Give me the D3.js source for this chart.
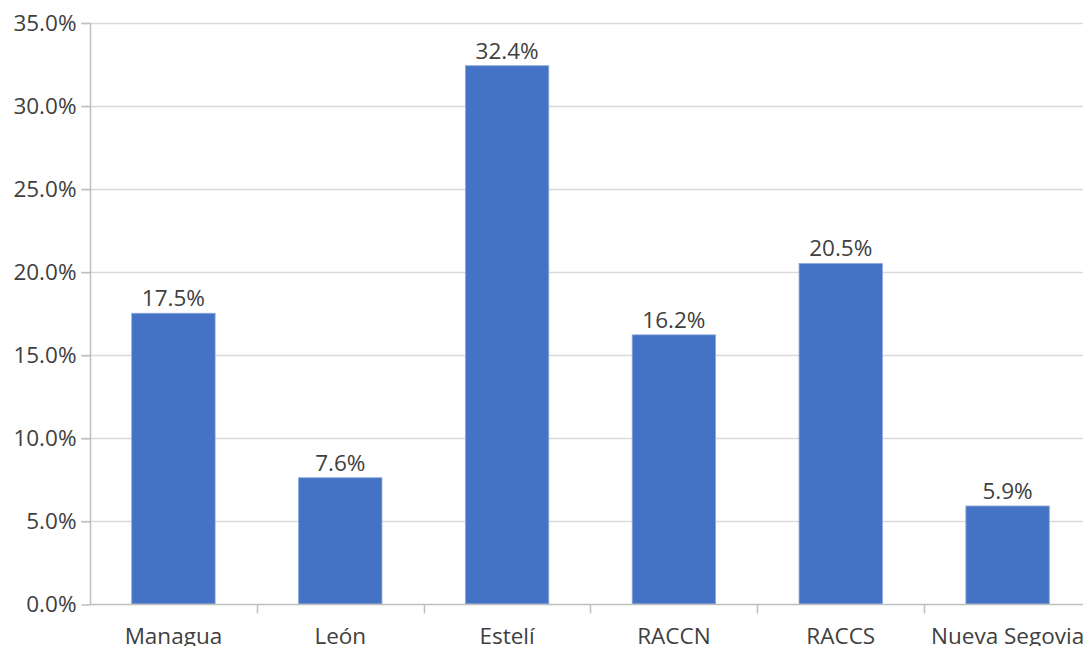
<!DOCTYPE html>
<html>
<head>
<meta charset="utf-8">
<script src="https://cdn.jsdelivr.net/npm/d3@7"></script>
<style>
  html, body { margin: 0; padding: 0; background: #fff; }
  svg { display: block; }
  text { font-family: "Open Sans", "Noto Sans", sans-serif; fill: #404040; }
</style>
</head>
<body>
<svg id="chart" width="1083" height="646"></svg>
<script>
const categories = ["Managua", "León", "Estelí", "RACCN", "RACCS", "Nueva Segovia"];
const values = [17.5, 7.6, 32.4, 16.2, 20.5, 5.9];
const yTicks = [0, 5, 10, 15, 20, 25, 30, 35];

const svg = d3.select("#chart");
const plotLeft = 90, plotRight = 1091, plotTop = 22.5, plotBottom = 604;
const fontSize = 22.5;

const x = d3.scaleBand().domain(categories).range([plotLeft, plotRight]).paddingInner(0.5).paddingOuter(0.25);
const y = d3.scaleLinear().domain([0, 35]).range([plotBottom, plotTop]);
const fmt = v => v.toFixed(1) + "%";

// horizontal gridlines
svg.append("g").selectAll("line").data(yTicks.filter(d => d > 0)).join("line")
  .attr("x1", plotLeft - 9).attr("x2", 1083)
  .attr("y1", d => Math.round(y(d)) + 0.5).attr("y2", d => Math.round(y(d)) + 0.5)
  .attr("stroke", "#d9d9d9").attr("stroke-width", 1.5);

// y axis
const yAxis = d3.axisLeft(y).tickValues(yTicks).tickFormat(fmt).tickSize(9).tickPadding(5);
const gy = svg.append("g").attr("transform", `translate(${plotLeft + 0.5},0.5)`).call(yAxis);
gy.select(".domain").attr("stroke", "#bfbfbf").attr("stroke-width", 1.5).attr("d", `M0,${y(35)}V${plotBottom}`);
gy.selectAll(".tick line").attr("stroke", "#bfbfbf").attr("stroke-width", 1.5);
gy.selectAll(".tick text").attr("font-size", fontSize).attr("fill", "#404040")
  .style("font-family", '"Open Sans", "Noto Sans", sans-serif');

// bars
svg.append("g").selectAll("rect").data(values).join("rect")
  .attr("x", (d, i) => x(categories[i]))
  .attr("y", d => y(d))
  .attr("width", x.bandwidth())
  .attr("height", d => y(0) - y(d))
  .attr("fill", "#4472c4")
  .attr("stroke", "#8eaadb").attr("stroke-width", 0.8);

// x axis
const xAxis = d3.axisBottom(x).tickSize(0).tickPadding(24);
const gx = svg.append("g").attr("transform", `translate(0,${plotBottom + 0.5})`).call(xAxis);
gx.select(".domain").attr("stroke", "#bfbfbf").attr("stroke-width", 1.5).attr("d", `M${plotLeft},0H1083`);
gx.selectAll(".tick text").attr("font-size", fontSize).attr("fill", "#404040")
  .style("font-family", '"Open Sans", "Noto Sans", sans-serif');
// category separators
const seps = d3.range(1, categories.length).map(i => x(categories[i]) - x.step() * x.paddingInner() / 2);
gx.append("g").selectAll("line").data(seps).join("line")
  .attr("x1", d => Math.round(d) + 0.5).attr("x2", d => Math.round(d) + 0.5)
  .attr("y1", 0).attr("y2", 9).attr("stroke", "#bfbfbf").attr("stroke-width", 1.5);

// value labels
svg.append("g").selectAll("text").data(values).join("text")
  .attr("x", (d, i) => x(categories[i]) + x.bandwidth() / 2)
  .attr("y", d => y(d) - 7)
  .attr("text-anchor", "middle")
  .attr("font-size", fontSize)
  .text(fmt);
</script>
</body>
</html>
